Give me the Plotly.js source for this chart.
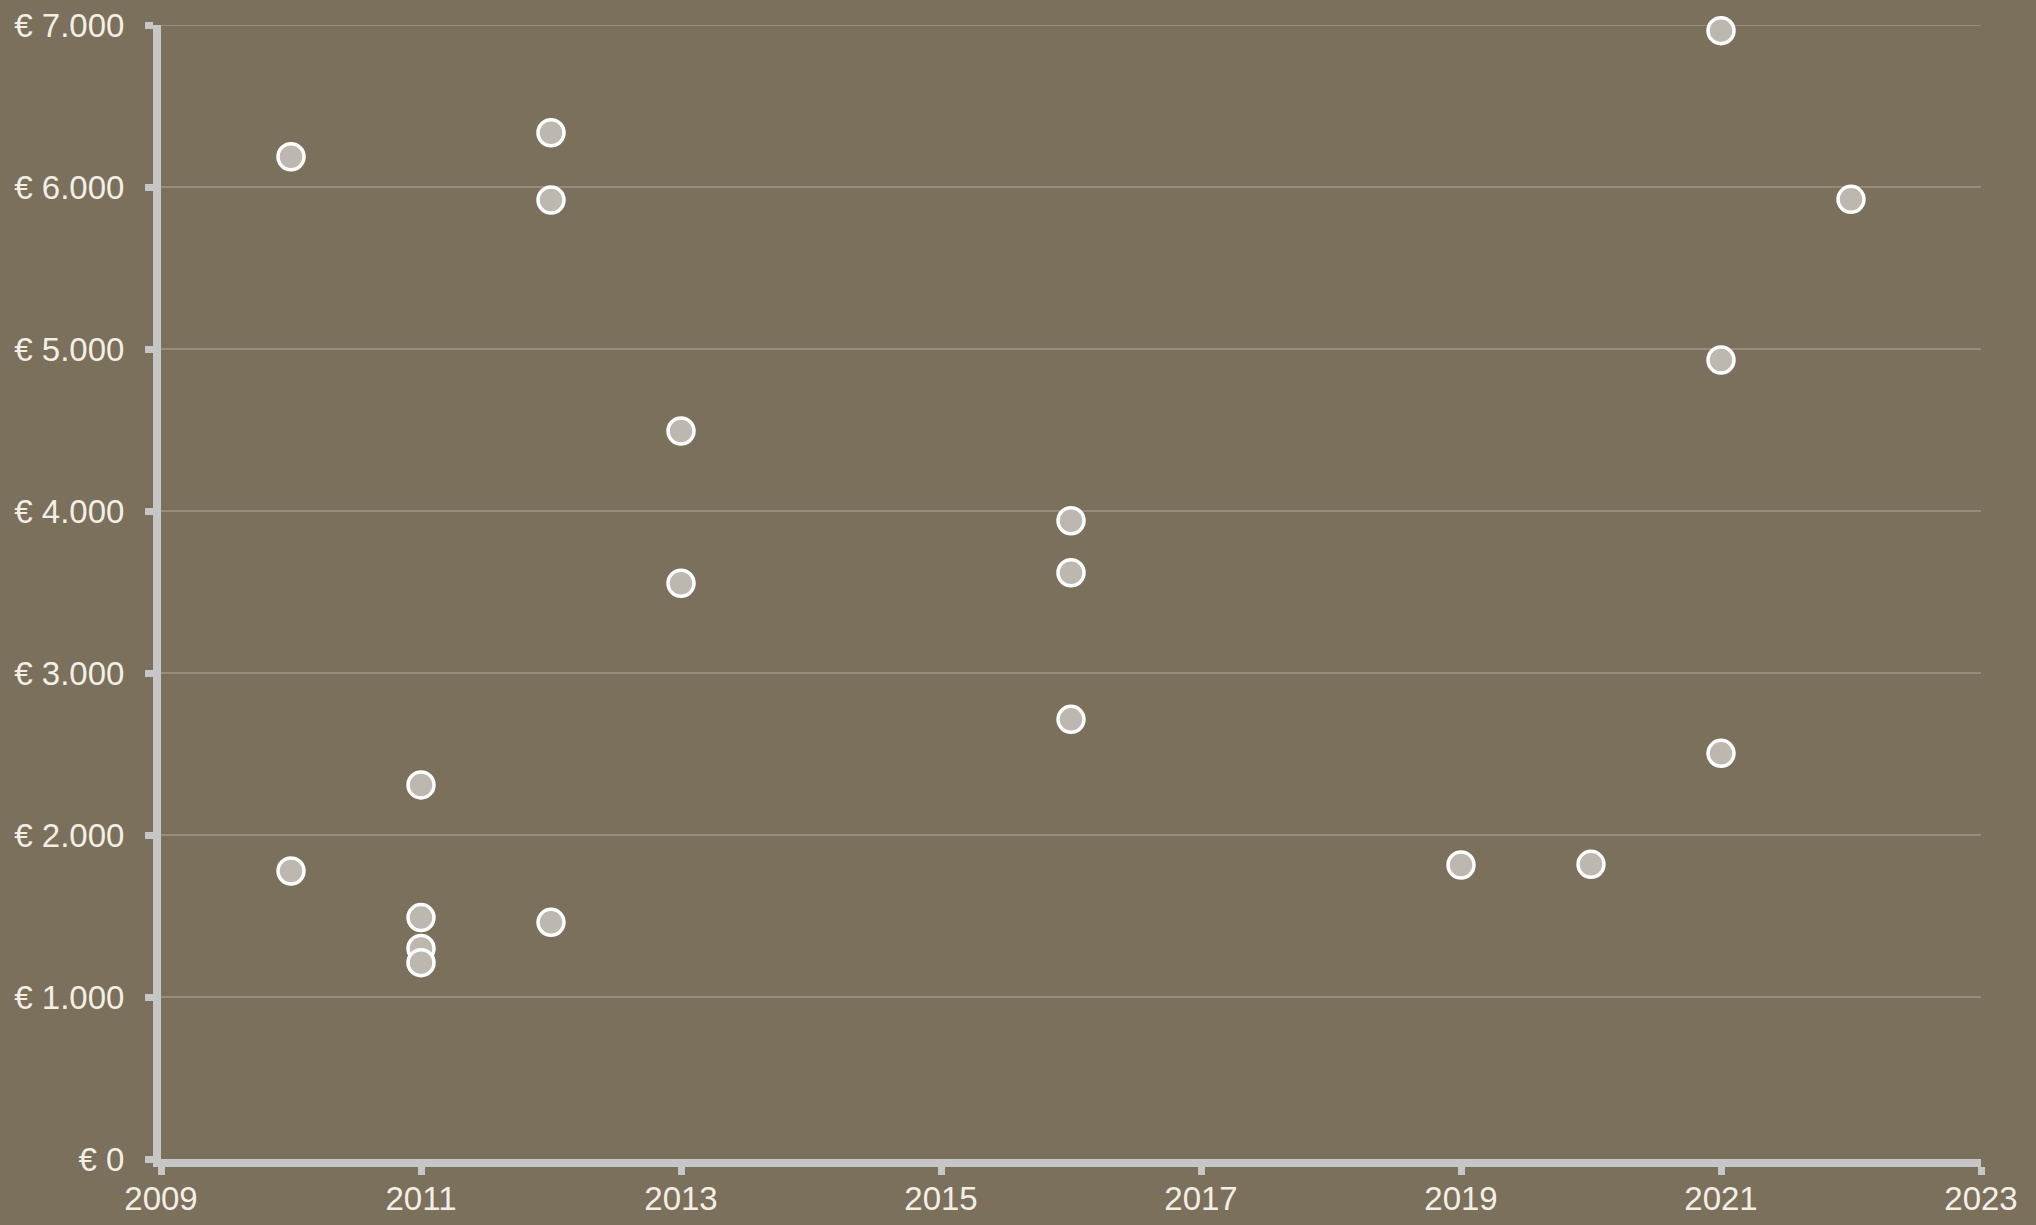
<!DOCTYPE html>
<html>
<head>
<meta charset="utf-8">
<script src="https://cdn.plot.ly/plotly-3.0.1.min.js"></script>
<style>html,body{margin:0;padding:0;background:#7b705b;}#chart{width:2036px;height:1225px;}</style>
</head>
<body>
<div id="chart"></div>
<script>
const years = [2010, 2010, 2011, 2011, 2011, 2011, 2012, 2012, 2012, 2013, 2013, 2016, 2016, 2016, 2019, 2020, 2021, 2021, 2021, 2022];
const amounts = [6187, 1778, 2309, 1490, 1300, 1212, 6335, 5920, 1461, 4494, 3554, 3940, 3619, 2714, 1815, 1819, 6965, 4932, 2504, 5924];
const yTickVals = [0, 1000, 2000, 3000, 4000, 5000, 6000, 7000];
const yTickText = ['€ 0', '€ 1.000', '€ 2.000', '€ 3.000', '€ 4.000', '€ 5.000', '€ 6.000', '€ 7.000'];
const xTickVals = [2009, 2011, 2013, 2015, 2017, 2019, 2021, 2023];

const trace = {
  type: 'scatter',
  mode: 'markers',
  x: years,
  y: amounts,
  marker: {size: 26, color: '#bdb8af', line: {color: '#ffffff', width: 3.5}},
  cliponaxis: false,
  hoverinfo: 'x+y'
};

const font = {family: '"Liberation Sans", Arial, sans-serif', size: 33, color: '#f3efe6'};
const yMax = yTickVals[yTickVals.length - 1];

const layout = {
  width: 2036, height: 1225,
  paper_bgcolor: '#7b705b',
  plot_bgcolor: '#7b705b',
  margin: {l: 161, r: 55, t: 25, b: 66},
  showlegend: false,
  font: font,
  shapes: [{
    type: 'line', xref: 'paper', yref: 'y', x0: 0, x1: 1, y0: yMax, y1: yMax,
    line: {color: '#978c79', width: 2}, layer: 'below'
  }],
  xaxis: {
    range: [2009, 2023],
    tickvals: xTickVals,
    ticktext: xTickVals.map(String),
    showgrid: false,
    zeroline: false,
    showline: true, linecolor: '#c6c6c6', linewidth: 8,
    ticks: 'outside', ticklen: 8, tickwidth: 7, tickcolor: '#c6c6c6',
    tickfont: font,
    ticklabelstandoff: -5,
    fixedrange: true
  },
  yaxis: {
    range: [0, 7000],
    tickvals: yTickVals,
    ticktext: yTickText,
    showgrid: true, gridcolor: '#978c79', gridwidth: 2,
    zeroline: false,
    showline: true, linecolor: '#c6c6c6', linewidth: 8,
    ticks: 'outside', ticklen: 8, tickwidth: 7, tickcolor: '#c6c6c6',
    tickfont: font,
    ticklabelstandoff: 14,
    fixedrange: true
  }
};

Plotly.newPlot('chart', [trace], layout, {displayModeBar: false, staticPlot: true});
</script>
</body>
</html>
